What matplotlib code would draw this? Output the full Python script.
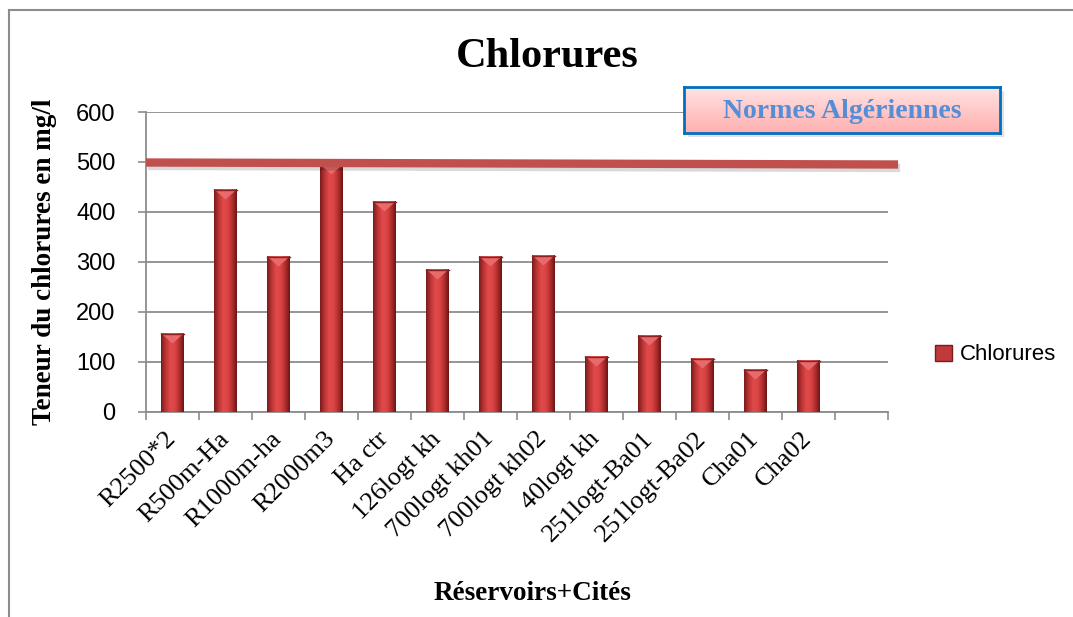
import numpy as np
import matplotlib
matplotlib.use("Agg")
import matplotlib.pyplot as plt
from matplotlib.colors import LinearSegmentedColormap
from matplotlib.patches import Polygon, Rectangle
from matplotlib.lines import Line2D
import matplotlib.patheffects as pe

# données
categories = ["R2500*2", "R500m-Ha", "R1000m-ha", "R2000m3", "Ha ctr",
              "126logt kh", "700logt kh01", "700logt kh02", "40logt kh",
              "251logt-Ba01", "251logt-Ba02", "Cha01", "Cha02", ""]
chlorures = [157, 445, 311, 495, 421, 285, 311, 313, 111, 153, 107, 85, 103]
norme_ends = [499, 495]   # trait "Normes Algériennes" (gauche, droite)
yticks = [0, 100, 200, 300, 400, 500, 600]

serif = "Liberation Serif"
sans = "Liberation Sans"

fig = plt.figure(figsize=(10.73, 6.17), dpi=100)
ax = fig.add_axes([146 / 1073, 1 - 412 / 617, 742 / 1073, 300 / 617])

# cadre extérieur (haut et gauche seulement visibles)
fig.add_artist(Line2D([9 / 1073, 1.0], [1 - 10 / 617] * 2, color="#8c8c8c", lw=1.5))
fig.add_artist(Line2D([9 / 1073] * 2, [0, 1 - 10 / 617], color="#8c8c8c", lw=1.5))

bar_cmap = LinearSegmentedColormap.from_list(
    "bar", ["#7a1c1c", "#bc3434", "#e04a4a", "#dc4545", "#b42e2e", "#6a1616"])
grad = np.linspace(0, 1, 64).reshape(1, -1)
w = 0.42
x = np.arange(len(chlorures))
for xi, v in zip(x, chlorures):
    ax.imshow(grad, extent=[xi - w / 2, xi + w / 2, 0, v], aspect="auto",
              cmap=bar_cmap, zorder=3, interpolation="bilinear")
    ax.add_patch(Polygon([[xi - w / 2, v], [xi + w / 2, v], [xi, v - 20]],
                         closed=True, facecolor="#e86a6c", edgecolor="none", zorder=4))
    ax.plot([xi - w / 2, xi + w / 2], [v, v], color="#8e2020", lw=1, zorder=4)

# trait de la norme
ax.plot([-0.5, 13.69], norme_ends, color="#c0504d", lw=6, solid_capstyle="butt",
        zorder=5, clip_on=False,
        path_effects=[pe.SimpleLineShadow(offset=(1.5, -2.5), alpha=0.15, shadow_color="k"),
                      pe.Normal()])

ax.set_xlim(-0.5, len(categories) - 0.5)
ax.set_ylim(0, 600)
ax.set_yticks(yticks)
ax.set_yticklabels([str(t) for t in yticks], fontfamily=sans, fontsize=17)
ax.yaxis.grid(True, color="#8c8c8c", lw=1.3)
ax.set_axisbelow(True)
ax.tick_params(axis="y", length=6, color="#8c8c8c", width=1.2, pad=16)

ax.set_xticks(np.arange(len(categories)))
ax.set_xticklabels(categories, rotation=45, ha="right", va="center",
                   rotation_mode="anchor", fontfamily=serif, fontsize=19)
ax.tick_params(axis="x", which="major", length=0, pad=17)
ax.set_xticks(np.arange(len(categories) + 1) - 0.5, minor=True)
ax.tick_params(axis="x", which="minor", length=6, color="#8c8c8c", width=1.2)

for s in ["top", "right"]:
    ax.spines[s].set_visible(False)
for s in ["left", "bottom"]:
    ax.spines[s].set_color("#8c8c8c")
    ax.spines[s].set_linewidth(1.3)

fig.text(547 / 1073, 1 - 57 / 617, "Chlorures", ha="center", va="center",
         fontfamily=serif, fontweight="bold", fontsize=30.5)
fig.text(45 / 1073, 1 - 262 / 617, "Teneur du chlorures en mg/l", rotation=90,
         ha="center", va="center", fontfamily=serif, fontweight="bold", fontsize=19.5)
fig.text(533 / 1073, 1 - 593 / 617, "Réservoirs+Cités", ha="center", va="center",
         fontfamily=serif, fontweight="bold", fontsize=19.5)

# légende
handle = Rectangle((0, 0), 1, 1, facecolor="#c0393b", edgecolor="#7a1c1c")
fig.legend([handle], ["Chlorures"], loc="center left",
           bbox_to_anchor=(915 / 1073, 1 - 355 / 617), frameon=False,
           prop={"family": sans, "size": 16}, handlelength=0.75,
           handleheight=0.75, handletextpad=0.35)

# encadré "Normes Algériennes"
bx, by, bw, bh = 684, 87, 316, 46
shadow = fig.add_axes([(bx + 4) / 1073, 1 - (by + bh + 4) / 617, bw / 1073, bh / 617])
shadow.add_patch(Rectangle((0, 0), 1, 1, facecolor="#000000", alpha=0.12, lw=0))
shadow.axis("off")
box = fig.add_axes([bx / 1073, 1 - (by + bh) / 617, bw / 1073, bh / 617])
box_cmap = LinearSegmentedColormap.from_list("box", ["#ffb0b0", "#ffe2e2"])
box.imshow(np.linspace(0, 1, 32).reshape(-1, 1)[::-1], extent=[0, 1, 0, 1],
           aspect="auto", cmap=box_cmap)
box.set_xticks([])
box.set_yticks([])
for s in box.spines.values():
    s.set_color("#0070c0")
    s.set_linewidth(2)
box.text(0.5, 0.47, "Normes Algériennes", ha="center", va="center",
         transform=box.transAxes, fontfamily=serif, fontweight="bold",
         fontsize=20, color="#558ed5")

fig.savefig("out.png", dpi=100)
